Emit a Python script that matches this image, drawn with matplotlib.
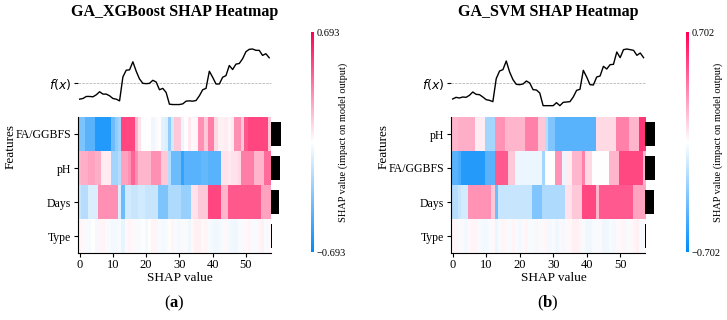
import numpy as np
import matplotlib
matplotlib.use('Agg')
import matplotlib.pyplot as plt
from matplotlib.colors import LinearSegmentedColormap, Normalize
from matplotlib.cm import ScalarMappable

plt.rcParams['font.family'] = 'Liberation Serif'
plt.rcParams['mathtext.fontset'] = 'custom'
plt.rcParams['mathtext.rm'] = 'DejaVu Sans'
plt.rcParams['mathtext.it'] = 'DejaVu Sans:italic'
plt.rcParams['mathtext.bf'] = 'Liberation Serif:bold'

# ---- data ----
titles = ['GA_XGBoost SHAP Heatmap', 'GA_SVM SHAP Heatmap']
panel_tags = ['a', 'b']
vlims = [0.693, 0.702]

feat_a = ['FA/GGBFS', 'pH', 'Days', 'Type']
feat_b = ['pH', 'FA/GGBFS', 'Days', 'Type']

# mean |SHAP| bars (relative)
imp_a = [1.0, 0.97, 0.85, 0.07]
imp_b = [1.0, 0.97, 0.85, 0.06]

# model output per sample (ordered), arbitrary units
fx_a = [-0.48, -0.46, -0.40, -0.40, -0.41, -0.35, -0.26, -0.33, -0.33, -0.38,
        -0.46, -0.48, -0.53, 0.18, 0.38, 0.39, 0.63, 0.35, 0.12, -0.01,
        -0.02, -0.01, 0.08, 0.03, -0.20, -0.16, -0.28, -0.63, -0.64, -0.64,
        -0.64, -0.62, -0.54, -0.53, -0.54, -0.52, -0.38, -0.20, -0.16, 0.35,
        0.17, -0.03, -0.03, 0.17, 0.22, 0.52, 0.40, 0.56, 0.58, 0.72,
        0.93, 1.00, 1.01, 0.97, 0.97, 0.82, 0.87, 0.75]
fx_b = [-0.48, -0.43, -0.45, -0.42, -0.43, -0.37, -0.27, -0.34, -0.35, -0.42,
        -0.50, -0.52, -0.56, 0.13, 0.36, 0.40, 0.66, 0.33, 0.10, -0.04,
        -0.05, -0.03, 0.06, 0.00, -0.20, -0.21, -0.30, -0.68, -0.68, -0.68,
        -0.68, -0.59, -0.68, -0.58, -0.57, -0.56, -0.42, -0.22, -0.19, 0.38,
        0.18, -0.05, -0.06, 0.18, 0.21, 0.50, 0.42, 0.55, 0.56, 0.93,
        0.76, 1.00, 1.02, 1.00, 0.98, 0.83, 0.90, 0.76]

# SHAP values, one list per feature row (58 samples)
a_fa = [-0.35, -0.35, -0.45, -0.45, -0.45, -0.6, -0.6, -0.6, -0.6, -0.6,
        -0.4, -0.3, -0.25, 0.5, 0.5, 0.5, 0.5, 0.2, 0.08, 0.0,
        0.0, 0.0, -0.04, 0.02, 0.0, -0.08, -0.1, -0.3, -0.12, 0.15,
        0.15, -0.05, 0.0, 0.06, 0.02, 0.03, 0.3, 0.3, 0.15, 0.35,
        0.35, 0.1, 0.04, 0.04, 0.05, 0.03, 0.05, 0.3, 0.3, 0.15,
        0.45, 0.5, 0.5, 0.5, 0.5, 0.5, 0.5, 0.15]
a_ph = [0.2, 0.22, 0.22, 0.25, 0.25, 0.22, 0.22, 0.05, 0.05, 0.05,
        -0.25, -0.25, -0.2, 0.25, 0.25, 0.3, 0.42, 0.3, 0.2, 0.2,
        0.2, 0.2, 0.3, 0.3, 0.3, 0.15, 0.15, -0.2, -0.4, -0.4,
        -0.4, -0.55, -0.45, -0.45, -0.45, -0.45, -0.45, -0.42, -0.42, -0.45,
        -0.45, -0.45, -0.45, 0.08, 0.08, 0.06, 0.08, 0.08, 0.1, 0.35,
        0.35, 0.35, 0.35, 0.2, 0.2, 0.2, 0.4, 0.4]
a_days = [-0.15, -0.2, -0.2, -0.1, -0.1, -0.1, 0.3, 0.3, 0.3, 0.3,
          0.3, 0.3, -0.1, -0.4, -0.12, -0.12, -0.15, -0.15, -0.12, -0.12,
          -0.15, -0.15, -0.15, -0.15, -0.35, -0.35, -0.35, -0.22, -0.22, -0.22,
          -0.22, -0.28, -0.28, -0.28, 0.08, 0.08, 0.15, 0.15, 0.15, 0.5,
          0.5, 0.5, 0.5, 0.2, 0.2, 0.45, 0.45, 0.45, 0.45, 0.45,
          0.45, 0.45, 0.45, 0.45, 0.45, 0.25, 0.25, 0.25]
a_type = [0.03, 0.02, -0.02, -0.02, 0.0, -0.03, 0.03, 0.03, 0.02, -0.02,
          -0.03, -0.03, -0.02, -0.06, 0.02, 0.03, 0.02, -0.02, -0.02, -0.01,
          -0.03, 0.01, 0.03, 0.03, -0.02, -0.03, -0.02, 0.01, 0.03, -0.02,
          -0.03, 0.02, -0.02, -0.04, 0.02, 0.04, 0.04, 0.02, 0.03, -0.02,
          -0.03, -0.04, -0.03, -0.02, 0.02, -0.03, -0.04, -0.04, -0.02, -0.02,
          0.02, 0.03, -0.02, -0.02, 0.03, 0.04, -0.02, 0.02]

b_ph = [0.2, 0.2, 0.22, 0.22, 0.22, 0.22, 0.22, 0.05, 0.05, 0.05,
        -0.25, -0.25, -0.25, 0.3, 0.3, 0.3, 0.2, 0.2, 0.2, 0.2,
        0.2, 0.2, 0.35, 0.35, 0.35, 0.35, 0.15, 0.15, -0.2, -0.35,
        -0.35, -0.45, -0.45, -0.45, -0.45, -0.45, -0.45, -0.45, -0.45, -0.45,
        -0.45, -0.45, -0.45, 0.1, 0.1, 0.1, 0.1, 0.1, 0.1, 0.35,
        0.35, 0.35, 0.35, 0.2, 0.2, 0.2, 0.55, 0.55]
b_fa = [-0.45, -0.45, -0.5, -0.6, -0.6, -0.6, -0.6, -0.6, -0.6, -0.6,
        -0.45, -0.45, -0.45, 0.45, 0.45, 0.45, 0.45, 0.15, 0.15, -0.05,
        -0.05, -0.05, -0.05, -0.05, -0.05, -0.05, -0.05, -0.25, 0.0, 0.0,
        0.0, 0.3, 0.3, -0.05, 0.05, 0.05, 0.2, 0.2, 0.2, 0.35,
        0.1, 0.1, 0.0, 0.0, 0.0, 0.0, 0.0, 0.2, 0.2, 0.2,
        0.5, 0.5, 0.5, 0.5, 0.5, 0.5, 0.5, 0.2]
b_days = [-0.2, -0.2, -0.15, -0.12, -0.12, 0.3, 0.3, 0.3, 0.3, 0.3,
          0.3, 0.3, 0.15, -0.4, -0.15, -0.15, -0.15, -0.15, -0.15, -0.15,
          -0.15, -0.15, -0.15, -0.15, -0.35, -0.35, -0.35, -0.22, -0.22, -0.22,
          -0.22, -0.22, -0.22, -0.22, 0.08, 0.08, 0.15, 0.15, 0.15, 0.5,
          0.5, 0.5, 0.5, 0.2, 0.45, 0.45, 0.45, 0.45, 0.45, 0.45,
          0.45, 0.45, 0.45, 0.45, 0.25, 0.25, 0.25, 0.25]
b_type = [0.02, 0.03, -0.02, 0.02, -0.03, 0.02, 0.03, 0.03, -0.02, -0.03,
          -0.03, -0.02, 0.02, -0.05, -0.02, 0.03, 0.02, -0.02, 0.03, -0.02,
          -0.03, 0.02, 0.03, -0.02, -0.02, 0.03, -0.02, 0.02, 0.03, -0.03,
          -0.02, -0.04, 0.02, -0.03, 0.02, 0.02, 0.04, 0.04, 0.03, -0.02,
          -0.04, -0.04, -0.02, -0.02, 0.02, -0.04, -0.04, -0.02, -0.03, 0.02,
          0.02, 0.03, -0.02, 0.02, 0.03, 0.04, -0.02, 0.02]

W, H = 727, 320
fig = plt.figure(figsize=(W / 100, H / 100), dpi=100)

# shap-like "red_blue": blue -> white -> red
blue = np.array([0, 139, 251]) / 255
red = np.array([255, 0, 82]) / 255
cmap = LinearSegmentedColormap.from_list('red_blue', [blue, (1, 1, 1), red])


def px_axes(x0, y0, x1, y1):
    return fig.add_axes([x0 / W, 1 - y1 / H, (x1 - x0) / W, (y1 - y0) / H])


def draw_panel(x0, x1, cbx, title, tag, feats, rows, fx, imp, vlim):
    vals = np.array(rows)
    n = vals.shape[1]
    ax = px_axes(x0, 32, x1, 253)
    ax.imshow(vals, aspect='auto', cmap=cmap, vmin=-vlim, vmax=vlim,
              interpolation='nearest', extent=(-0.5, n - 0.5, len(feats) - 0.5, -0.5))
    fx = np.array(fx)
    ax.hlines(-1.5, -0.5, n - 0.5, color='#aaaaaa', linestyle='--', linewidth=0.5)
    ax.plot(np.arange(n), -fx / np.abs(fx).max() - 1.5, color='black', linewidth=1)
    imp = np.array(imp)
    ax.barh(np.arange(len(feats)), imp / imp.max() * n / 20, 0.7, left=n - 0.5,
            color='black', align='center')
    ax.set_xlim(-0.5, n + 3)
    ax.set_ylim(len(feats) - 0.5, -3)
    ax.set_yticks([-1.5] + list(range(len(feats))))
    ax.set_yticklabels(['$f(x)$'] + feats, fontsize=8.5)
    ax.get_yticklabels()[0].set_fontsize(9)
    ax.set_xticks(range(0, n, 10))
    ax.tick_params(axis='x', labelsize=9, length=3, width=0.8, pad=1)
    ax.tick_params(axis='y', length=3, width=0.8, pad=2)
    for s in ['top', 'right']:
        ax.spines[s].set_visible(False)
    ax.spines['left'].set_bounds(len(feats) - 0.5, -0.5)
    ax.spines['bottom'].set_bounds(-0.5, n - 0.5)
    ax.set_xlabel('SHAP value', fontsize=9.5, labelpad=1)
    ax.set_ylabel('Features', fontsize=9.5, labelpad=4)
    ax.yaxis.set_label_coords(-0.3, 0.48)

    xc = (x0 + (x0 + (x1 - x0) * (n) / (n + 3.5))) / 2
    fig.text(xc / W, 1 - 12 / H, title, ha='center', va='center',
             fontsize=11.5, fontweight='bold')
    fig.text(xc / W, 1 - 303 / H, '(' + r'$\mathbf{' + tag + '}$' + ')',
             ha='center', va='center', fontsize=12)

    cax = px_axes(cbx, 32, cbx + 2.5, 252)
    cb = fig.colorbar(ScalarMappable(norm=Normalize(-vlim, vlim), cmap=cmap),
                      cax=cax, ticks=[-vlim, vlim])
    cb.set_ticklabels(['\u2212%.3f' % vlim, '%.3f' % vlim])
    cb.outline.set_visible(False)
    cb.ax.tick_params(labelsize=7.5, length=0, pad=2)
    cb.set_label('SHAP value (impact on model output)', fontsize=7.5)
    cb.ax.yaxis.set_label_coords(10.8, 0.5)


draw_panel(78, 282.5, 311, titles[0], panel_tags[0], feat_a,
           [a_fa, a_ph, a_days, a_type], fx_a, imp_a, vlims[0])
draw_panel(451, 657, 686, titles[1], panel_tags[1], feat_b,
           [b_ph, b_fa, b_days, b_type], fx_b, imp_b, vlims[1])

fig.savefig('out.png', dpi=100)
